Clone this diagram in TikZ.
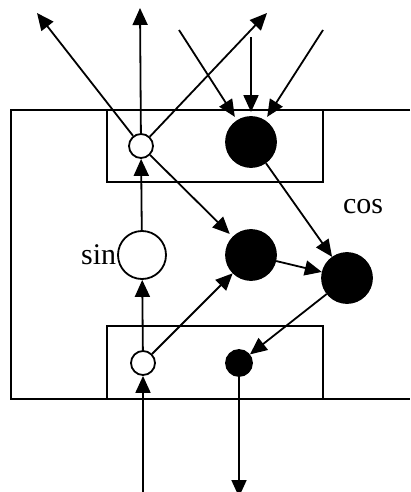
\documentclass[tikz,border=0pt]{standalone}
\usepackage{fontspec}
\setmainfont{Liberation Serif}
\usetikzlibrary{arrows.meta}

\begin{document}
\begin{tikzpicture}[x=1pt,y=-1pt,line width=1.8pt,
    >={Triangle[length=17pt,width=15pt]},
    wcell/.style={circle,draw,fill=white,inner sep=0pt},
    bcell/.style={circle,draw,fill=black,inner sep=0pt},
    lbl/.style={font=\fontsize{30}{32}\selectfont,inner sep=0pt}]
        \useasboundingbox (0,0) rectangle (410,492);
        % frame and the two layers
        \draw (410,110) -- (11,110) -- (11,399) -- (410,399);
        \draw (107,110) -- (107,182) -- (323,182) -- (323,110);
        \draw (107,399) -- (107,326) -- (323,326) -- (323,399);
        % cells
        \node [wcell,minimum size=24pt] (TW) at (141,146) {};
        \node [bcell,minimum size=50pt] (TB) at (251,142) {};
        \node [wcell,minimum size=48pt] (S) at (142,255) {};
        \node [bcell,minimum size=50pt] (M) at (251,255) {};
        \node [bcell,minimum size=50pt] (C) at (347,278) {};
        \node [wcell,minimum size=24pt] (BW) at (143,363) {};
        \node [bcell,minimum size=26pt] (BB) at (239,363) {};
        \node [lbl,anchor=east] (sinl) at (S.west) {sin};
        \node [lbl] (cosl) at (363,207) {cos};
        % free ends
        \coordinate (O1) at (37,13);
        \coordinate (O2) at (140,8);
        \coordinate (O3) at (267,13);
        \coordinate (I1) at (179,30);
        \coordinate (I2) at (251,37);
        \coordinate (I3) at (323,30);
        \coordinate (IN) at (143,495);
        \coordinate (OUT) at (239,497);
        % connections
        \draw [->] (TW) -- (O1);
        \draw [->] (TW) -- (O2);
        \draw [->] (TW) -- (O3);
        \draw [->,shorten >=4pt] (I1) -- (TB);
        \draw [->,shorten >=4pt] (I2) -- (TB);
        \draw [->,shorten >=4pt] (I3) -- (TB);
        \draw [->] (S) -- (TW);
        \draw [->] (BW) -- (S);
        \draw [->,shorten >=4pt] (TW) -- (M);
        \draw [->] (BW) -- (M);
        \draw [->] (TB) -- (C);
        \draw [->] (M) -- (C);
        \draw [->] (C) -- (BB);
        \draw [->] (IN) -- (BW);
        \draw [->] (BB) -- (OUT);
    \end{tikzpicture}
\end{document}
